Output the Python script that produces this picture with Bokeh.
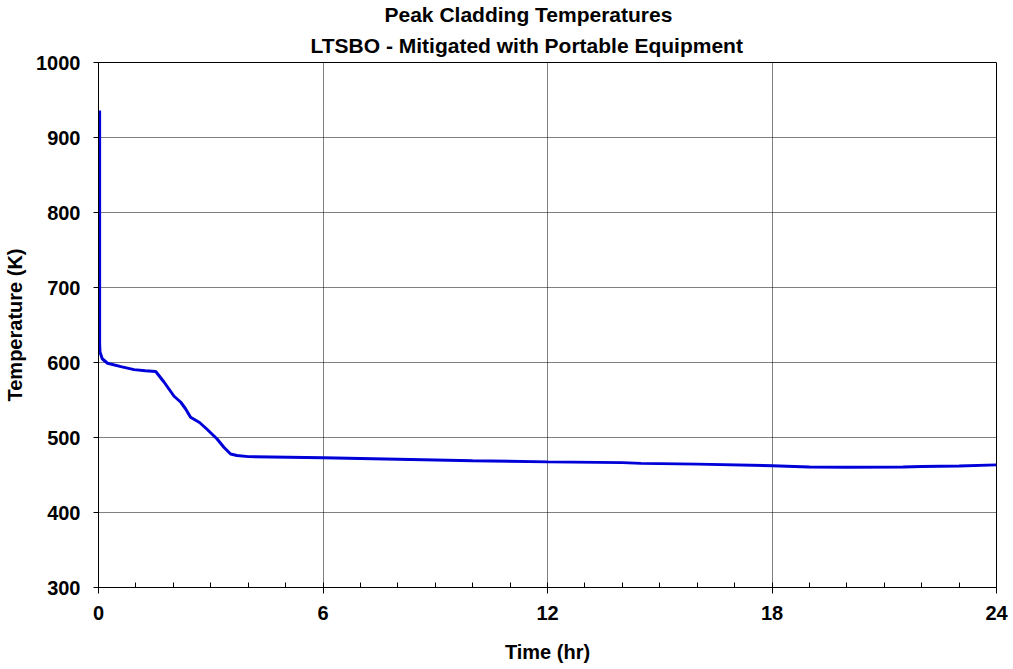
from bokeh.plotting import figure
from bokeh.models import FixedTicker, Title, Range1d
from bokeh.embed import file_html
from bokeh.resources import INLINE

# Data (time in hours, peak cladding temperature in K)
time_hr = [0.03, 0.03, 0.04, 0.1, 0.24, 0.6, 0.95, 1.25, 1.53, 1.75, 2.02,
           2.2, 2.33, 2.46, 2.7, 2.9, 3.17, 3.35, 3.53, 3.7, 4.0, 6.0, 8.0,
           10.0, 12.0, 14.0, 14.5, 16.0, 18.0, 19.0, 20.0, 21.5, 22.0, 23.0, 24.0]
temp_k = [936.0, 625.0, 614.0, 605.0, 599.0, 594.5, 590.5, 589.0, 588.0, 574.0, 555.0,
          547.0, 538.0, 527.0, 520.0, 511.0, 498.0, 487.0, 478.0, 476.0, 474.5, 473.0, 471.0,
          469.0, 467.5, 466.5, 465.5, 464.5, 462.3, 460.7, 460.4, 460.6, 461.2, 462.0, 463.5]

x_ticks = [0, 6, 12, 18, 24]
x_minor = list(range(0, 25))
y_ticks = [300, 400, 500, 600, 700, 800, 900, 1000]

title_1 = "Peak Cladding Temperatures"
title_2 = "LTSBO - Mitigated with Portable Equipment"
x_label = "Time (hr)"
y_label = "Temperature (K)"

FONT = "Liberation Sans"
W, H = 1010, 667
LEFT, TOP, RIGHT, BOTTOM = 98, 62, 996, 587

p = figure(width=W, height=H, output_backend="svg", toolbar_location=None,
           title=None,
           x_range=Range1d(0, 24), y_range=Range1d(300, 1000),
           min_border_left=LEFT, min_border_right=W - RIGHT, min_border_top=TOP,
           min_border_bottom=H - BOTTOM)

p.line(time_hr, temp_k, line_color="#0000D8", line_width=3)

# axes
p.xaxis.ticker = FixedTicker(ticks=x_ticks, minor_ticks=x_minor)
p.yaxis.ticker = FixedTicker(ticks=y_ticks, minor_ticks=[])
for ax in (p.xaxis[0], p.yaxis[0]):
    ax.axis_line_color = "black"
    ax.axis_line_width = 1
    ax.major_tick_line_color = "black"
    ax.major_tick_in = 0
    ax.major_label_text_font = FONT
    ax.major_label_text_font_style = "bold"
    ax.major_label_text_font_size = "20px"
    ax.major_label_text_color = "black"
    ax.axis_label_text_font = FONT
    ax.axis_label_text_font_style = "bold"
    ax.axis_label_text_font_size = "20px"
    ax.axis_label_text_color = "black"

p.xaxis.major_tick_out = 6
p.xaxis.minor_tick_in = 5
p.xaxis.minor_tick_out = 0
p.xaxis.minor_tick_line_color = "black"
p.xaxis.major_label_standoff = 12
p.xaxis.axis_label = x_label
p.xaxis.axis_label_standoff = 18

p.yaxis.major_tick_out = 5
p.yaxis.minor_tick_line_color = None
p.yaxis.major_label_standoff = 13
p.yaxis.axis_label = y_label
p.yaxis.axis_label_standoff = 7

# grid
for g in (p.xgrid[0], p.ygrid[0]):
    g.grid_line_color = "black"
    g.grid_line_alpha = 1.0
    g.grid_line_dash = "1 1"
    g.grid_line_width = 1

p.outline_line_color = "black"
p.outline_line_width = 1
p.background_fill_color = "white"
p.border_fill_color = "white"

# two-line title: the line added first sits nearest the frame
p.add_layout(Title(text=title_2, align="left", offset=310 - LEFT, standoff=12,
                   text_line_height=0.9,
                   text_font=FONT, text_font_style="bold", text_font_size="21px",
                   text_color="black"), "above")
p.add_layout(Title(text=title_1, align="left", offset=384 - LEFT, standoff=0,
                   text_line_height=0.9,
                   text_font=FONT, text_font_style="bold", text_font_size="21px",
                   text_color="black"), "above")

open("out.html", "w").write(file_html(p, INLINE))
